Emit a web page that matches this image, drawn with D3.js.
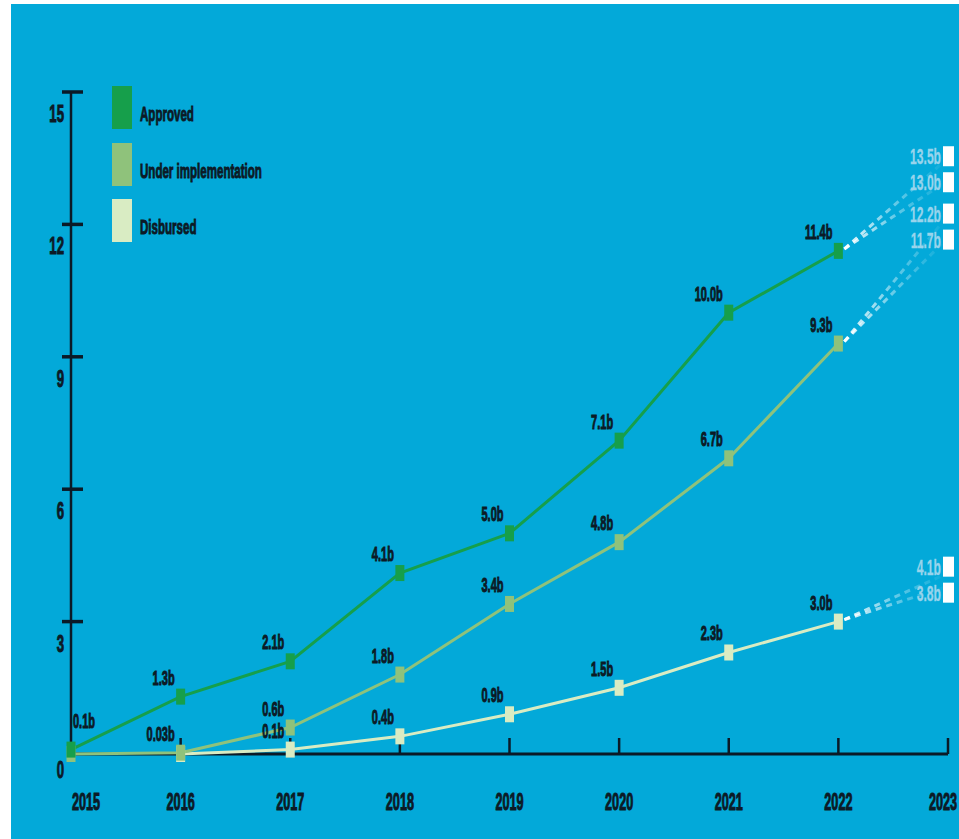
<!DOCTYPE html>
<meta charset="utf-8">
<style>
body { margin: 0; background: #fff; }
.lbl { font-family: "Liberation Sans", Arial, sans-serif; font-weight: bold; fill: #0c1a26; }
</style>
<body>
<script src="https://cdn.jsdelivr.net/npm/d3@7"></script>
<script>

// values (billions)
var years = [2015, 2016, 2017, 2018, 2019, 2020, 2021, 2022, 2023];
var approved = [0.1, 1.3, 2.1, 4.1, 5.0, 7.1, 10.0, 11.4];
var underImpl = [0, 0.03, 0.6, 1.8, 3.4, 4.8, 6.7, 9.3];
var disbursed = [null, 0, 0.1, 0.4, 0.9, 1.5, 2.3, 3.0];
var approvedProj = [13.5, 13.0];
var underProj = [12.2, 11.7];
var disbProj = [4.1, 3.8];
var yTicks = [0, 3, 6, 9, 12, 15];
var seriesNames = ["Approved", "Under implementation", "Disbursed"];
var colors = ["#169f4b", "#8fc27b", "#d9ecc3"];

var W = 959, H = 839, SX = 0.55;

var svg = d3.select("body").append("svg")
  .attr("width", W).attr("height", H);

svg.append("rect").attr("x", 11).attr("y", 4)
  .attr("width", W - 11).attr("height", H - 4)
  .attr("fill", "#03a9d9");

var x = d3.scaleLinear().domain([2015, 2023]).range([71, 948]);
var y = d3.scaleLinear().domain([0, 15]).range([754, 92]);

// squeezed bold text like the original
function label(g, px, py, txt, anchor, size, fill, sw) {
  return g.append("text").attr("class", "lbl")
    .attr("transform", "translate(" + px + "," + py + ") scale(" + SX + ",1)")
    .attr("text-anchor", anchor || "start")
    .style("font-size", (size || 20) + "px")
    .style("fill", fill || null)
    .style("stroke", fill || "#0c1a26").style("stroke-width", sw == null ? 1 : sw)
    .text(txt);
}

var ink = "#0b1a27";

// y axis
svg.append("line").attr("x1", x(2015)).attr("x2", x(2015))
  .attr("y1", y(15)).attr("y2", y(0))
  .attr("stroke", ink).attr("stroke-width", 2.5);
yTicks.forEach(function(t) {
  if (t > 0) {
    svg.append("line").attr("x1", x(2015) - 9).attr("x2", x(2015) + 12)
      .attr("y1", y(t)).attr("y2", y(t))
      .attr("stroke", ink).attr("stroke-width", 3.5);
  }
  label(svg, 64, y(t) + (t > 0 ? 30 : 24), String(t), "end", 24);
});

// x axis
svg.append("line").attr("x1", x(2015)).attr("x2", x(2023))
  .attr("y1", y(0)).attr("y2", y(0))
  .attr("stroke", ink).attr("stroke-width", 3);
years.forEach(function(yr, i) {
  if (i > 0) {
    svg.append("line").attr("x1", x(yr)).attr("x2", x(yr))
      .attr("y1", y(0)).attr("y2", y(0) - 16)
      .attr("stroke", ink).attr("stroke-width", 2.5);
  }
  if (i == 0) label(svg, x(yr) + 1, 810, String(yr), "start", 23);
  else if (i == years.length - 1) label(svg, W - 2, 810, String(yr), "end", 23);
  else label(svg, x(yr), 810, String(yr), "middle", 23);
});

// projection dashes
var defs = svg.append("defs");
var grad = defs.append("linearGradient").attr("id", "fade")
  .attr("gradientUnits", "userSpaceOnUse")
  .attr("x1", x(2022)).attr("x2", x(2023)).attr("y1", 0).attr("y2", 0);
grad.append("stop").attr("offset", 0).attr("stop-color", "#fff").attr("stop-opacity", 1);
grad.append("stop").attr("offset", 0.5).attr("stop-color", "#fff").attr("stop-opacity", 0.4);
grad.append("stop").attr("offset", 1).attr("stop-color", "#fff").attr("stop-opacity", 0);

var projs = [
  {from: approved[7], to: approvedProj},
  {from: underImpl[7], to: underProj},
  {from: disbursed[7], to: disbProj}
];
projs.forEach(function(p) {
  p.to.forEach(function(v) {
    svg.append("line")
      .attr("x1", x(2022) + 6).attr("y1", y(p.from) - 2)
      .attr("x2", x(2023)).attr("y2", y(v))
      .attr("stroke", "url(#fade)").attr("stroke-width", 3)
      .attr("stroke-dasharray", "6,5");
  });
  var mid = (y(p.to[0]) + y(p.to[1])) / 2;
  p.to.forEach(function(v, i) {
    var cy = mid + (i == 0 ? -13 : 13);
    svg.append("rect").attr("x", 943).attr("y", cy - 10)
      .attr("width", 11).attr("height", 20).attr("fill", "#fff");
    label(svg, 941, cy + 8, v.toFixed(1) + "b", "end", 22, "#98d4ec", 0.3);
  });
});

// series lines + markers
var all = [approved, underImpl, disbursed];
var line = d3.line()
  .defined(function(d) { return d != null; })
  .x(function(d, i) { return x(years[i]); })
  .y(function(d) { return y(d); });

[2, 1, 0].forEach(function(k) {
  svg.append("path").datum(all[k])
    .attr("d", line)
    .attr("fill", "none")
    .attr("stroke", colors[k])
    .attr("stroke-width", 3);
});

function fmt(v) { return v < 0.1 && v > 0 ? v + "b" : v.toFixed(1) + "b"; }

[2, 1, 0].forEach(function(k) {
  all[k].forEach(function(v, i) {
    if (v == null) return;
    svg.append("rect")
      .attr("x", x(years[i]) - 4.5).attr("y", y(v) - 8)
      .attr("width", 9).attr("height", 16)
      .attr("fill", colors[k]);
  });
});

// value labels (zero starts get none)
[0, 1, 2].forEach(function(k) {
  all[k].forEach(function(v, i) {
    if (v == null || v == 0) return;
    if (k == 0 && i == 0) label(svg, x(years[i]) + 2, y(v) - 22, fmt(v), "start", 20);
    else label(svg, x(years[i]) - 6, y(v) - 12, fmt(v), "end", 20);
  });
});

// legend
seriesNames.forEach(function(n, i) {
  var top = [86, 143, 199][i];
  svg.append("rect").attr("x", 112).attr("y", top)
    .attr("width", 20).attr("height", 43).attr("fill", colors[i]);
  label(svg, 140, top + 35, n, "start", 21);
});

</script>
</body>
